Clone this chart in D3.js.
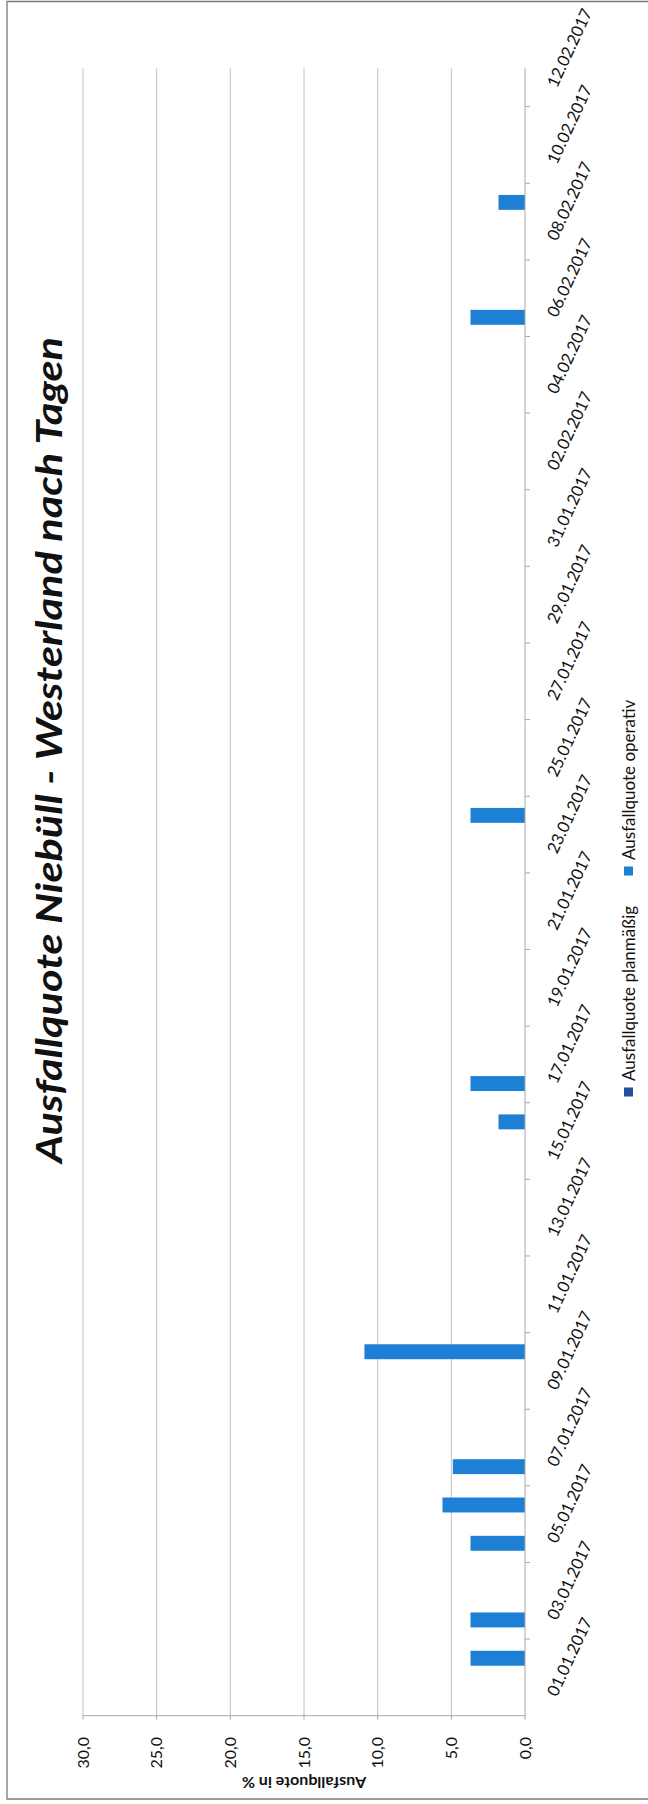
<!DOCTYPE html>
<html>
<head>
<meta charset="utf-8">
<script src="https://cdn.jsdelivr.net/npm/d3@7"></script>
<style>
  html, body { margin: 0; padding: 0; background: #fff; }
  svg { display: block; }
</style>
</head>
<body>
<svg id="chart" width="648" height="1804"></svg>
<script>
// Daily cancellation rates Niebüll - Westerland, Jan/Feb 2017
const days = [
  "01.01.2017","02.01.2017","03.01.2017","04.01.2017","05.01.2017","06.01.2017","07.01.2017",
  "08.01.2017","09.01.2017","10.01.2017","11.01.2017","12.01.2017","13.01.2017","14.01.2017",
  "15.01.2017","16.01.2017","17.01.2017","18.01.2017","19.01.2017","20.01.2017","21.01.2017",
  "22.01.2017","23.01.2017","24.01.2017","25.01.2017","26.01.2017","27.01.2017","28.01.2017",
  "29.01.2017","30.01.2017","31.01.2017","01.02.2017","02.02.2017","03.02.2017","04.02.2017",
  "05.02.2017","06.02.2017","07.02.2017","08.02.2017","09.02.2017","10.02.2017","11.02.2017",
  "12.02.2017"
];

// Ausfallquote planmäßig (%)
const planmaessig = [
  0,0,0,0,0,0,0, 0,0,0,0,0,0,0, 0,0,0,0,0,0,0,
  0,0,0,0,0,0,0, 0,0,0,0,0,0,0, 0,0,0,0,0,0,0, 0
];

// Ausfallquote operativ (%)
const operativ = [
  0,3.7,3.7,0,3.7,5.6,4.9, 0,0,10.9,0,0,0,0, 0,1.8,3.7,0,0,0,0,
  0,0,3.7,0,0,0,0, 0,0,0,0,0,0,0, 0,3.7,0,0,1.8,0,0, 0
];

const valueTicks = [0, 5, 10, 15, 20, 25, 30];
const seriesNames = ["Ausfallquote planmäßig", "Ausfallquote operativ"];
const seriesColors = ["#1f4f9e", "#1d80d4"];
const chartTitle = "Ausfallquote Niebüll - Westerland nach Tagen";
const valueAxisTitle = "Ausfallquote in %";

const de = d3.formatLocale({ decimal: ",", thousands: ".", grouping: [3], currency: ["", " €"] });
const fmt = de.format(".1f");

const svg = d3.select("#chart");
const font = "Lato, 'Open Sans', sans-serif";

// The chart is laid out turned a quarter turn: values run right-to-left, days bottom-to-top.
const x = d3.scaleLinear().domain([0, 30]).range([525, 83]);
const y = d3.scaleBand().domain(days).range([1715.7, 68.3]).paddingInner(0).paddingOuter(0);
const bw = y.bandwidth();
const barW = bw * 0.39;

// frame (open on the right side)
svg.append("path")
  .attr("d", "M648,1.5 H7 V1799 H648")
  .attr("fill", "none").attr("stroke", "#7a7a7a").attr("stroke-width", 1.3);

// gridlines
svg.append("g").selectAll("line")
  .data(valueTicks.filter(v => v > 0))
  .join("line")
  .attr("x1", d => x(d)).attr("x2", d => x(d))
  .attr("y1", y.range()[1]).attr("y2", y.range()[0])
  .attr("stroke", "#c2c2c2").attr("stroke-width", 1);

// value axis (bottom edge of plot)
const yBase = y.range()[0];
svg.append("line")
  .attr("x1", x(30)).attr("x2", x(0)).attr("y1", yBase).attr("y2", yBase)
  .attr("stroke", "#a8a8a8").attr("stroke-width", 1);
svg.append("g").selectAll("line")
  .data(valueTicks)
  .join("line")
  .attr("x1", d => x(d)).attr("x2", d => x(d))
  .attr("y1", yBase).attr("y2", yBase + 4)
  .attr("stroke", "#a8a8a8");
svg.append("g").selectAll("text")
  .data(valueTicks)
  .join("text")
  .attr("transform", d => `translate(${x(d)},1737) rotate(-90)`)
  .attr("dy", "0.35em")
  .attr("text-anchor", "end")
  .attr("font-family", font).attr("font-size", 16).attr("fill", "#111")
  .text(d => fmt(d));

svg.append("text")
  .attr("transform", `translate(${(x(0) + x(30)) / 2},1777) rotate(180)`)
  .attr("text-anchor", "middle")
  .attr("font-family", font).attr("font-size", 16).attr("font-weight", 700).attr("fill", "#111")
  .text(valueAxisTitle);

// bars: both series share the same slot, operativ drawn on top
const seriesData = [planmaessig, operativ];
seriesData.forEach((vals, si) => {
  svg.append("g").selectAll("rect")
    .data(days.map((d, i) => ({ day: d, v: vals[i] })))
    .join("rect")
    .attr("x", d => x(d.v))
    .attr("y", d => y(d.day) + (bw - barW) / 2)
    .attr("width", d => x(0) - x(d.v))
    .attr("height", barW)
    .attr("fill", seriesColors[si]);
});

// category axis (right edge of plot)
const xBase = x(0);
svg.append("line")
  .attr("x1", xBase).attr("x2", xBase)
  .attr("y1", y.range()[1]).attr("y2", y.range()[0])
  .attr("stroke", "#a8a8a8").attr("stroke-width", 1);
svg.append("g").selectAll("line")
  .data(days.filter((d, i) => i > 0 && i % 2 === 0))
  .join("line")
  .attr("x1", xBase).attr("x2", xBase + 5)
  .attr("y1", d => y(d) + bw).attr("y2", d => y(d) + bw)
  .attr("stroke", "#a8a8a8");
svg.append("g").selectAll("text")
  .data(days.filter((d, i) => i % 2 === 0))
  .join("text")
  .attr("transform", d => `translate(557,${y(d) + bw / 2 + 1}) rotate(-65)`)
  .attr("font-family", font).attr("font-size", 16.5).attr("fill", "#111")
  .text(d => d);

// legend
const legendY = [1092, 871];
seriesNames.forEach((name, i) => {
  svg.append("rect")
    .attr("x", 624).attr("y", legendY[i] - 4.5).attr("width", 9).attr("height", 9)
    .attr("fill", seriesColors[i]);
  svg.append("text")
    .attr("transform", `translate(629,${legendY[i] - 11}) rotate(-90)`)
    .attr("dy", "0.35em")
    .attr("font-family", font).attr("font-size", 17).attr("fill", "#111")
    .text(name);
});

// title
svg.append("text")
  .attr("transform", "translate(62,750) rotate(-90)")
  .attr("text-anchor", "middle")
  .attr("font-family", font).attr("font-size", 36).attr("font-weight", 700).attr("font-style", "italic")
  .attr("textLength", 826).attr("lengthAdjust", "spacingAndGlyphs")
  .attr("fill", "#111")
  .text(chartTitle);
</script>
</body>
</html>
